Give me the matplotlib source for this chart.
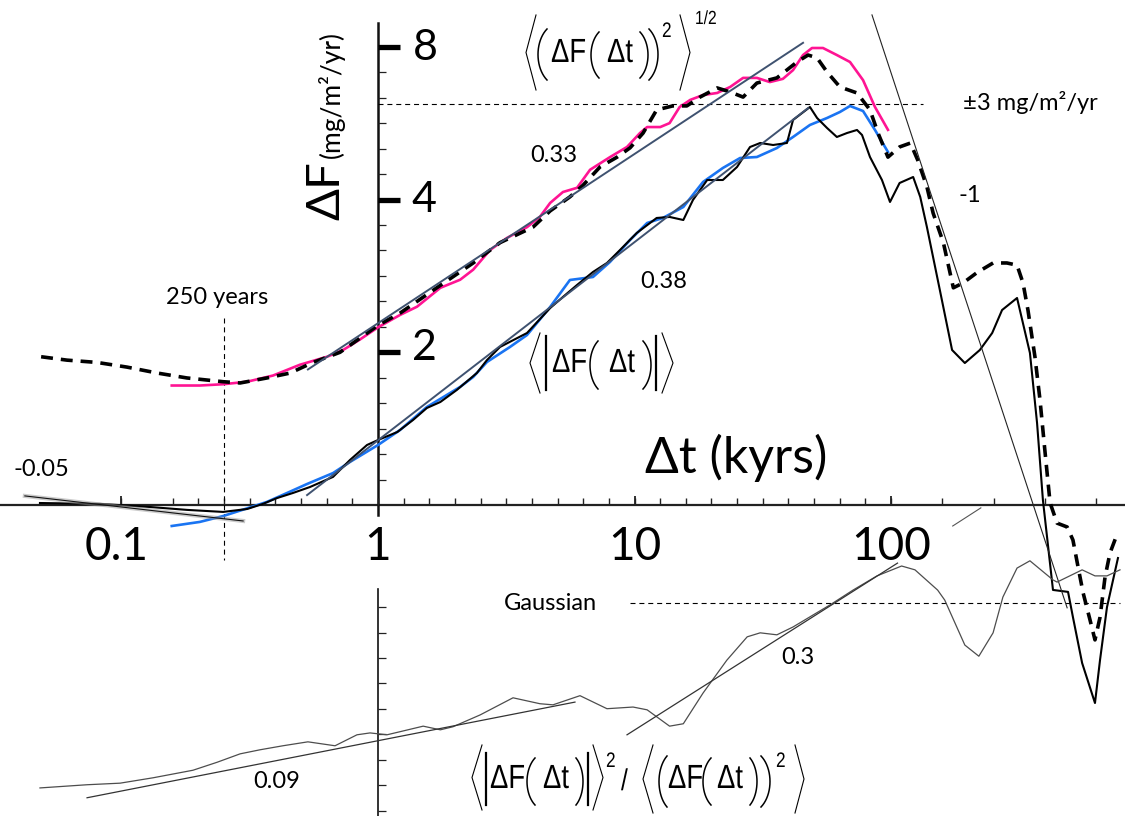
import numpy as np
import matplotlib
matplotlib.use('Agg')
import matplotlib.pyplot as plt
from matplotlib.lines import Line2D
from matplotlib.textpath import TextPath
from matplotlib.patches import PathPatch
from matplotlib.font_manager import FontProperties
from matplotlib.transforms import Affine2D

plt.rcParams['font.family'] = ['Lato', 'DejaVu Sans']
EQ_PROP = FontProperties(family='Liberation Sans')

W, H = 1125, 816

# RMS fluctuation <dF^2>^1/2, pink series (kyrs, mg/m2/yr)
rms_pink_t = [0.157, 0.202, 0.249, 0.309, 0.390, 0.496, 0.633, 0.730, 0.851, 1.0,
              1.22, 1.42, 1.75, 2.09, 2.35, 2.73, 3.18, 3.81, 4.28, 4.69,
              5.26, 5.97, 6.71, 8.02, 9.35, 10.5, 11.2, 12.6, 13.7, 15.0,
              16.5, 18.5, 21.0, 23.6, 26.5, 30.0, 33.7, 37.9, 41.5, 45.4,
              49.2, 54.3, 61.5, 69.2, 77.8, 86.6, 97.3]
rms_pink = [1.72, 1.72, 1.73, 1.75, 1.80, 1.89, 1.96, 2.02, 2.12, 2.24,
            2.37, 2.46, 2.68, 2.78, 2.91, 3.18, 3.36, 3.53, 3.70, 3.94,
            4.14, 4.22, 4.58, 4.85, 5.08, 5.41, 5.56, 5.56, 5.66, 6.09,
            6.29, 6.43, 6.49, 6.67, 6.95, 6.95, 6.82, 6.92, 7.20, 7.71,
            7.96, 7.96, 7.71, 7.47, 6.88, 6.09, 5.49]

# RMS fluctuation, black dashed series
rms_black_t = [0.0486, 0.0613, 0.0803, 0.105, 0.138, 0.180, 0.249, 0.290, 0.369, 0.454,
               0.558, 0.711, 1.0, 1.22, 1.64, 2.35, 2.99, 4.02, 4.69, 5.60,
               6.30, 7.34, 8.55, 9.61, 10.8, 12.2, 14.1, 16.0, 18.0, 21.0,
               23.6, 26.5, 30.0, 35.9, 43.0, 47.5, 51.5, 56.3, 63.2, 73.7,
               82.8, 89.0, 97.3, 108, 119, 127, 138, 146, 160, 175,
               191, 216, 250, 283, 310, 327, 342, 364, 381, 398,
               417, 444, 486, 512, 536, 561, 597, 624, 653, 683,
               714, 767]
rms_black = [1.96, 1.93, 1.91, 1.87, 1.82, 1.78, 1.75, 1.74, 1.78, 1.82,
             1.91, 2.00, 2.26, 2.39, 2.65, 3.00, 3.29, 3.53, 3.80, 4.05,
             4.27, 4.64, 4.85, 5.06, 5.41, 6.01, 6.12, 6.12, 6.37, 6.64,
             6.52, 6.37, 6.79, 6.95, 7.47, 7.71, 7.61, 7.14, 6.67, 6.49,
             6.01, 5.41, 4.85, 5.08, 5.17, 4.79, 4.24, 3.76, 3.29, 2.68,
             2.74, 2.87, 3.00, 3.00, 2.97, 2.74, 2.42, 1.96, 1.61, 1.28,
             1.01, 0.921, 0.905, 0.853, 0.755, 0.671, 0.593, 0.542, 0.601, 0.721,
             0.804, 0.885]

# mean absolute fluctuation <|dF|>, blue series
mean_blue_t = [0.157, 0.202, 0.249, 0.311, 0.369, 0.442, 0.529, 0.668, 0.778, 1.0,
               1.22, 1.55, 2.09, 2.35, 2.66, 3.27, 3.81, 4.69, 5.60, 6.89,
               8.02, 9.61, 11.2, 12.9, 15.5, 18.5, 22.1, 25.8, 30.0, 35.9,
               41.5, 48.3, 56.3, 63.2, 69.2, 77.8, 86.6, 97.3]
mean_blue = [0.909, 0.926, 0.951, 0.986, 1.014, 1.056, 1.100, 1.156, 1.216, 1.313,
             1.406, 1.560, 1.709, 1.788, 1.914, 2.049, 2.163, 2.457, 2.777, 2.815,
             3.013, 3.330, 3.597, 3.680, 3.868, 4.333, 4.617, 4.831, 4.853, 5.055,
             5.315, 5.613, 5.793, 5.953, 6.118, 5.980, 5.487, 4.965]

# mean absolute fluctuation, black solid series
mean_black_t = [0.0481, 0.0824, 0.129, 0.180, 0.249, 0.309, 0.356, 0.404, 0.466, 0.543,
                0.668, 0.778, 0.906, 1.0, 1.19, 1.37, 1.55, 1.75, 2.03, 2.43,
                2.66, 2.99, 3.81, 4.69, 5.26, 5.97, 6.89, 7.81, 8.78, 10.2,
                12.2, 13.7, 15.5, 16.9, 19.2, 22.1, 25.1, 28.2, 30.9, 34.7,
                39.3, 41.5, 48.3, 51.5, 56.3, 61.5, 67.4, 73.7, 77.1, 82.8,
                92.2, 99.1, 108, 122, 130, 138, 155, 173, 194, 222,
                248, 271, 310, 348, 371, 391, 428, 490, 512, 556,
                624, 653, 695, 767]
mean_black = [1.009, 1.005, 0.991, 0.978, 0.969, 0.982, 1.005, 1.032, 1.056, 1.085,
              1.136, 1.227, 1.313, 1.343, 1.393, 1.471, 1.553, 1.596, 1.686, 1.821,
              1.931, 2.049, 2.183, 2.445, 2.571, 2.715, 2.880, 3.000, 3.182, 3.437,
              3.680, 3.697, 3.646, 3.993, 4.372, 4.372, 4.638, 5.078, 5.172, 5.125,
              5.172, 5.741, 6.090, 5.793, 5.537, 5.315, 5.412, 5.487, 5.363, 4.853,
              4.372, 3.957, 4.313, 4.432, 4.048, 3.533, 2.654, 2.021, 1.905, 2.021,
              2.183, 2.423, 2.559, 1.994, 1.451, 1.023, 0.680, 0.674, 0.601, 0.488,
              0.407, 0.495, 0.629, 0.786]

# ratio <|dF|>^2 / <dF^2>
ratio_t = [0.0481, 0.0734, 0.0987, 0.133, 0.190, 0.236, 0.290, 0.347, 0.426, 0.533,
           0.680, 0.828, 0.931, 1.084, 1.22, 1.50, 1.75, 1.96, 2.50, 3.36,
           4.28, 4.81, 6.13, 7.81, 9.87, 11.2, 13.7, 15.5, 18.5, 22.9,
           27.5, 30.9, 35.9, 41.5, 49.7, 57.8, 71.1, 88.2, 110, 124,
           152, 162, 194, 220, 250, 273, 310, 348, 428, 444,
           556, 624, 695, 781]
ratio = [0.275, 0.279, 0.281, 0.288, 0.298, 0.309, 0.321, 0.327, 0.333, 0.339,
         0.333, 0.350, 0.353, 0.350, 0.355, 0.364, 0.358, 0.363, 0.383, 0.414,
         0.403, 0.401, 0.418, 0.394, 0.397, 0.392, 0.364, 0.368, 0.423, 0.491,
         0.546, 0.556, 0.551, 0.571, 0.603, 0.631, 0.675, 0.720, 0.753, 0.740,
         0.675, 0.645, 0.526, 0.500, 0.556, 0.654, 0.746, 0.771, 0.707, 0.700,
         0.740, 0.720, 0.720, 0.740]

# fitted power laws (end points)
fit_rms_t, fit_rms = [0.533, 45.4], [1.85, 8.15]             # slope 0.33
fit_mean_t, fit_mean = [0.529, 47.5], [1.046, 6.06]          # slope 0.38
fit_neg_t, fit_neg = [84.3, 486], [9.25, 0.627]              # slope -1
fit_small_t, fit_small = [0.042, 0.298], [1.042, 0.930]      # slope -0.05
fit_r1_t, fit_r1 = [0.0734, 5.86], [0.263, 0.406]            # slope 0.09
fit_r2_t, fit_r2 = [9.35, 106], [0.350, 0.763]               # slope 0.3

gauss_ratio = 0.6366
band_level = 6.17
yrs250 = 0.25

fig = plt.figure(figsize=(W / 100, H / 100), dpi=100)
ax = fig.add_axes([0, 0, 1, 1])
ax.set_xscale('log')
ax.set_yscale('log', base=2)
ax.set_xlim(0.0336, 817)
ax.set_ylim(0.2437, 9.898)
ax.axis('off')

axr = fig.add_axes([0, 0, 1, 1])
axr.set_xscale('log')
axr.set_yscale('log')
axr.set_xlim(0.0336, 817)
axr.set_ylim(0.2421, 9.83)
axr.axis('off')
axr.patch.set_visible(False)

# axes lines and ticks
ax.plot([0.0336, 817], [1, 1], color='#222222', lw=1.6, zorder=2)
ax.plot([1, 1], [0.956, 8.92], color='#111111', lw=1.8, zorder=2)
xt = [10 ** (k / 10) for k in [-10] + list(range(-8, 21))] + \
     [10 ** 2.2, 10 ** 2.4, 10 ** 2.6, 10 ** 2.8]
ax.plot(xt, [1] * len(xt), ls='none', marker=2, ms=5, mew=1.0, color='#222222', zorder=2)
ax.plot([0.1, 10, 100], [1, 1, 1], ls='none', marker=2, ms=6.5, mew=1.3, color='#222222', zorder=2)
yt = [2 ** (k / 6) for k in range(1, 19)]
ax.plot([1] * len(yt), yt, ls='none', marker=1, ms=5.5, mew=0.9, color='#222222', zorder=2)
for v in [2, 4, 8]:
    ax.plot([1, 1.22], [v, v], color='black', lw=3.8, solid_capstyle='butt', zorder=2)

axr.plot([1, 1], [0.2421, 0.678], color='#111111', lw=1.2, zorder=2)
rt = [0.625 * 2 ** (-k / 6) for k in range(0, 9)]
axr.plot([1] * len(rt), rt, ls='none', marker=1, ms=5.5, mew=0.9, color='#222222', zorder=2)

# reference lines
ax.plot([1, 133], [band_level, band_level], color='black', lw=0.8, dashes=(4.5, 3.5), zorder=2)
ax.plot([yrs250, yrs250], [2.337, 0.779], color='black', lw=0.8, dashes=(4.5, 3.5), zorder=2)
axr.plot([9.61, 781], [gauss_ratio, gauss_ratio], color='black', lw=0.8, dashes=(4.5, 3.5), zorder=2)

# data curves
ax.plot(rms_pink_t, rms_pink, color='#FF1493', lw=1.9, zorder=3)
ax.plot(mean_blue_t, mean_blue, color='#1A74F2', lw=1.9, zorder=3)
ax.plot(rms_black_t, rms_black, color='black', lw=2.6, dashes=(3.3, 2.2), zorder=4)
ax.plot(mean_black_t, mean_black, color='black', lw=1.5, zorder=4)
axr.plot(ratio_t, ratio, color='#4d4d4d', lw=0.9, zorder=3)

# fits
ax.plot(fit_rms_t, fit_rms, color='#3f5270', lw=1.4, zorder=5)
ax.plot(fit_mean_t, fit_mean, color='#3f5270', lw=1.4, zorder=5)
ax.plot(fit_neg_t, fit_neg, color='#222222', lw=0.8, zorder=5)
ax.plot(fit_small_t, fit_small, color='#999999', lw=3.0, alpha=0.5, zorder=4)
ax.plot(fit_small_t, fit_small, color='#111111', lw=0.8, zorder=5)
ax.plot([174, 224], [0.909, 0.987], color='#555555', lw=0.8, zorder=5)
axr.plot(fit_r1_t, fit_r1, color='#333333', lw=0.9, zorder=4)
axr.plot(fit_r2_t, fit_r2, color='#333333', lw=0.9, zorder=4)


def ftext(x, y, s, ha='center', va='center', **kw):
    fig.text(x / W, 1 - y / H, s, ha=ha, va=va, **kw)


def pline(xs, ys, lw=0.8):
    fig.add_artist(Line2D([x / W for x in xs], [1 - y / H for y in ys],
                          transform=fig.transFigure, lw=lw, color='black',
                          solid_joinstyle='miter'))


def bra(x_end, x_tip, y0, y1):
    pline([x_end, x_tip, x_end], [y0, (y0 + y1) / 2, y1])


def paren(x_out, x_in, y0, y1):
    # x_out: belly of the arc, x_in: tips
    a = np.radians(55)
    s = np.linspace(-1, 1, 21)
    xs = x_in + (x_out - x_in) * (np.cos(a * s) - np.cos(a)) / (1 - np.cos(a))
    ys = (y0 + y1) / 2 + (y1 - y0) / 2 * np.sin(a * s) / np.sin(a)
    pline(xs, ys, lw=1.1)


def bar(x, y0, y1):
    pline([x, x], [y0, y1], lw=1.6)


def eq(x, y, s, size=33.5, squeeze=0.82):
    # condensed equation-editor style glyphs, x/y = left baseline in pixels
    tp = TextPath((0, 0), s, size=size, prop=EQ_PROP)
    tr = Affine2D().scale(squeeze, 1.0).translate(x, H - y)
    fig.add_artist(PathPatch(tp, transform=tr, facecolor='black', lw=0))


# axis labels
ftext(425, 48, '8', fontsize=31)
ftext(424, 200, '4', fontsize=31)
ftext(424, 348, '2', fontsize=31)
for lab, xp in [('0.1', 117), ('1', 378), ('10', 635), ('100', 891)]:
    ftext(xp, 547, lab, fontsize=33)
ftext(736, 458, '\u0394t (kyrs)', fontsize=36)
ftext(326, 191, '\u0394F', fontsize=34, rotation=90)
ftext(331, 95, '(mg/m\u00b2/yr)', fontsize=19, rotation=90)

# slope and reference annotations
ftext(554, 156, '0.33', fontsize=17)
ftext(664, 281, '0.38', fontsize=17)
ftext(970, 196, '-1', fontsize=17)
ftext(41, 470, '-0.05', fontsize=17)
ftext(277, 781, '0.09', fontsize=17)
ftext(798, 658, '0.3', fontsize=17)
ftext(217, 298, '250 years', fontsize=17)
ftext(550, 604, 'Gaussian', fontsize=17)
ftext(1030, 103, '\u00b13 mg/m\u00b2/yr', fontsize=17)

# formula: <(dF(dt))^2>^1/2
bra(536, 526, 15, 90)
paren(538, 547, 29, 80)
eq(551, 62, '\u0394F')
paren(591, 599, 32, 78)
eq(607, 62, '\u0394t')
paren(648, 640, 32, 78)
paren(658, 649, 29, 80)
eq(662, 37, '2', size=21)
bra(680, 690, 15, 90)
eq(695, 24, '1/2', size=19)

# formula: <|dF(dt)|>
bra(540, 530, 333, 393)
bar(546, 336, 390)
eq(552, 372, '\u0394F')
paren(590, 598, 341, 389)
eq(609, 372, '\u0394t')
paren(651, 643, 341, 389)
bar(656, 336, 390)
bra(662, 673, 333, 393)

# formula: <|dF(dt)|>^2 / <(dF(dt))^2>
bra(482, 472, 745, 810)
bar(486, 753, 805)
eq(490, 788, '\u0394F')
paren(527, 535, 758, 805)
eq(543, 788, '\u0394t')
paren(583, 576, 758, 805)
bar(588, 753, 805)
bra(593, 603, 745, 810)
eq(606, 767, '2', size=21)
eq(621, 790, '/', size=30)
bra(653, 643, 745, 813)
paren(659, 667, 756, 807)
eq(668, 788, '\u0394F')
paren(703, 711, 758, 805)
eq(717, 788, '\u0394t')
paren(757, 750, 758, 805)
paren(770, 761, 756, 807)
eq(776, 767, '2', size=21)
bra(795, 804, 745, 813)

fig.savefig('out.png', dpi=100)
